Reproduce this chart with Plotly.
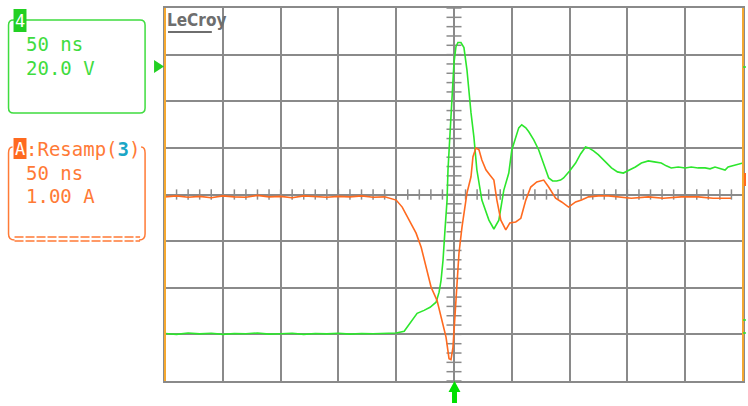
import plotly.graph_objects as go

# ---------------- data ----------------
# Channel 4 (green) : time in ns, voltage in V (20 V/div, 50 ns/div)
green_t = [-250, -240, -230, -220, -210, -200, -190, -180, -170, -160, -150, -140, -130, -120,
           -110, -100, -90, -80, -70, -60, -50,
           -43.1, -37.1, -31.9, -25.9, -20.7, -15.5, -12.9, -11.2, -9.5, -7.8, -6.0, -5.2, -3.4,
           -1.7, 0.0, 1.7, 3.4, 6.0, 8.6, 11.2, 12.9, 14.7, 17.2, 19.8, 24.1, 30.2, 34.5, 38.8,
           43.1, 47.4, 50.0, 53.4, 56.0, 58.6, 62.1, 64.7, 69.0, 73.3, 77.6, 81.9, 85.3, 88.8,
           92.2, 94.8, 100.0, 105.2, 109.5, 113.8, 116.4, 120.7, 125.0, 130.2, 136.2, 141.4,
           146.5, 151.7, 156.9, 162.1, 168.1, 173.3, 179.3, 183.6, 187.9, 194.0, 200.0, 205.2,
           211.2, 217.2, 221.5, 225.8, 230.2, 234.5, 237.1, 241.4, 245.7, 250.0]
green_v = [0.4, 0.0, 0.6, 0.2, 0.5, 0.0, 0.4, 0.3, 0.6, 0.1, 0.3, 0.5, 0.0, 0.4,
           0.2, 0.5, 0.1, 0.4, 0.3, 0.5, 0.6,
           1.3, 5.2, 9.0, 10.3, 11.6, 13.8, 18.1, 23.2, 31.8, 44.7, 57.6, 70.5, 87.7,
           101.9, 116.6, 123.4, 125.2, 125.2, 123.0, 113.5, 102.8, 95.1, 84.7, 70.5, 57.6, 49.0, 45.2, 49.0,
           61.9, 69.2, 79.1, 84.7, 88.6, 89.9, 88.6, 86.9, 83.4, 79.1, 72.7, 67.1, 65.8, 65.8,
           66.2, 67.1, 70.1, 73.5, 77.4, 80.4, 80.0, 78.7, 77.0, 74.4, 71.4, 69.7,
           69.2, 70.5, 71.8, 73.5, 74.4, 74.0, 73.5, 72.3, 71.4, 71.8, 71.4, 71.8,
           71.4, 71.4, 71.0, 71.8, 71.0, 70.5, 71.8, 72.3, 73.1, 73.5]

# Math trace A = Resamp(3) (orange) : time in ns, current in A (1 A/div)
orange_t = [-250, -240, -230, -220, -210, -200, -190, -180, -170, -160, -150, -140, -130, -120,
            -110, -100, -90, -80, -70, -60, -50,
            -44.8, -38.8, -32.8, -28.4, -24.1, -19.8, -14.7, -10.3, -6.9, -4.3, -2.6, -0.9, 0.9,
            2.6, 4.3, 6.9, 9.5, 11.2, 14.7, 16.4, 19.0, 21.6, 24.1, 27.6, 31.0, 34.5, 37.1, 40.5,
            44.8, 48.3, 53.4, 57.8, 62.1, 66.4, 71.6, 77.6, 81.9, 87.9, 93.1, 99.1, 105.2, 110.3,
            116.4, 125.0, 133.6, 142.2, 153.4, 168.1, 181.0, 196.5, 211.2, 224.1, 239.6]
orange_a = [-0.05, -0.03, -0.06, -0.04, -0.07, -0.03, -0.05, -0.06, -0.02, -0.05, -0.04, -0.07, -0.03, -0.05,
            -0.06, -0.04, -0.05, -0.03, -0.06, -0.05, -0.12,
            -0.27, -0.55, -0.83, -1.13, -1.56, -1.99, -2.27, -2.70, -3.06, -3.52, -3.54, -3.28, -2.63,
            -1.90, -1.26, -0.70, -0.27, 0.03, 0.38, 0.81, 1.00, 0.96, 0.74, 0.53, 0.42, 0.31, -0.12, -0.55,
            -0.76, -0.61, -0.59, -0.51, -0.12, 0.16, 0.27, 0.31, 0.16, -0.08, -0.16, -0.27, -0.16, -0.12,
            -0.05, -0.03, -0.03, -0.05, -0.08, -0.05, -0.08, -0.05, -0.05, -0.08, -0.08]

# scope settings
time_div_ns = 50
green_v_div = 20
orange_a_div = 1.00
green_label = ["50 ns", "20.0 V"]
orange_label = ["50 ns", "1.00 A"]

# ---------------- colors / geometry ----------------
W, H = 748, 406
ML, MR, MT, MB = 165, 3, 8, 25
PW, PH = W - ML - MR, H - MT - MB

GREEN = "#2de62d"
GREEN_TXT = "#3fdc3f"
ORANGE = "#ff6a1f"
ORANGE_TXT = "#ff7a36"
GRID = "#8a8a8a"
EDGE = "#f5a830"
MONO = "DejaVu Sans Mono, Liberation Mono, monospace"


# helpers: convert page pixel coordinates to paper coordinates
def px(x):
    return (x - ML) / PW


def py(y):
    return (H - MB - y) / PH


def path(points, close=True):
    s = "M " + " L ".join(f"{px(x):.5f},{py(y):.5f}" for x, y in points)
    return s + (" Z" if close else "")


fig = go.Figure()
fig.add_trace(go.Scatter(x=green_t, y=green_v, mode="lines",
                         line=dict(color=GREEN, width=1.6), yaxis="y", hoverinfo="skip"))
fig.add_trace(go.Scatter(x=orange_t, y=orange_a, mode="lines",
                         line=dict(color=ORANGE, width=1.6), yaxis="y2", hoverinfo="skip"))

shapes = []
# center ruler ticks (minor divisions of 1/5 div)
for i in range(-25, 26):
    t = i * time_div_ns / 5
    shapes.append(dict(type="line", xref="x", yref="y", x0=t, x1=t,
                       y0=60 - 0.11 * green_v_div, y1=60 + 0.11 * green_v_div,
                       line=dict(color=GRID, width=1.5), layer="below"))
for j in range(-20, 21):
    v = 60 + j * green_v_div / 5
    shapes.append(dict(type="line", xref="x", yref="y", x0=-0.13 * time_div_ns, x1=0.13 * time_div_ns,
                       y0=v, y1=v, line=dict(color=GRID, width=1.5), layer="below"))

# orange side edges
shapes.append(dict(type="line", xref="paper", yref="paper", x0=0, x1=0, y0=0, y1=1,
                   line=dict(color=EDGE, width=2)))
shapes.append(dict(type="line", xref="paper", yref="paper", x0=1, x1=1, y0=0, y1=1,
                   line=dict(color=EDGE, width=2)))


def rrect(x0, y0, x1, y1, r):
    return (f"M {px(x0 + r):.5f},{py(y0):.5f} L {px(x1 - r):.5f},{py(y0):.5f} "
            f"Q {px(x1):.5f},{py(y0):.5f} {px(x1):.5f},{py(y0 + r):.5f} "
            f"L {px(x1):.5f},{py(y1 - r):.5f} Q {px(x1):.5f},{py(y1):.5f} {px(x1 - r):.5f},{py(y1):.5f} "
            f"L {px(x0 + r):.5f},{py(y1):.5f} Q {px(x0):.5f},{py(y1):.5f} {px(x0):.5f},{py(y1 - r):.5f} "
            f"L {px(x0):.5f},{py(y0 + r):.5f} Q {px(x0):.5f},{py(y0):.5f} {px(x0 + r):.5f},{py(y0):.5f} Z")


# green channel box
shapes.append(dict(type="path", xref="paper", yref="paper", path=rrect(8, 20, 145, 113, 5),
                   line=dict(color=GREEN_TXT, width=1.5)))
shapes.append(dict(type="rect", xref="paper", yref="paper", x0=px(13), x1=px(26), y0=py(9), y1=py(32),
                   fillcolor="#22d022", line=dict(width=0)))

# orange math box (open top, rounded corners)
x0, x1, y0, y1 = 8, 145, 147, 240
lb = (f"M {px(x0 + 4):.5f},{py(y0):.5f} Q {px(x0):.5f},{py(y0):.5f} {px(x0):.5f},{py(y0 + 6):.5f} "
      f"L {px(x0):.5f},{py(y1 - 6):.5f} Q {px(x0):.5f},{py(y1):.5f} {px(x0 + 6):.5f},{py(y1):.5f}")
rb = (f"M {px(x1 - 4):.5f},{py(y0):.5f} Q {px(x1):.5f},{py(y0):.5f} {px(x1):.5f},{py(y0 + 6):.5f} "
      f"L {px(x1):.5f},{py(y1 - 6):.5f} Q {px(x1):.5f},{py(y1):.5f} {px(x1 - 6):.5f},{py(y1):.5f}")
shapes.append(dict(type="path", xref="paper", yref="paper", path=lb, line=dict(color=ORANGE_TXT, width=1.5)))
shapes.append(dict(type="path", xref="paper", yref="paper", path=rb, line=dict(color=ORANGE_TXT, width=1.5)))
for yy in (237, 241):
    shapes.append(dict(type="line", xref="paper", yref="paper", x0=px(14), x1=px(140), y0=py(yy), y1=py(yy),
                       line=dict(color=ORANGE_TXT, width=1.5, dash="9px,2px")))
shapes.append(dict(type="rect", xref="paper", yref="paper", x0=px(13), x1=px(26), y0=py(138), y1=py(159),
                   fillcolor=ORANGE, line=dict(width=0)))

# green offset marker left, trigger arrow bottom
shapes.append(dict(type="path", xref="paper", yref="paper",
                   path=path([(154, 60), (164, 66.5), (154, 73)]), fillcolor="#22d022", line=dict(width=0)))
shapes.append(dict(type="path", xref="paper", yref="paper",
                   path=path([(453, 403), (453, 392), (449.5, 392), (455.5, 381), (461.5, 392), (458, 392), (458, 403)]),
                   fillcolor="#00e000", line=dict(width=0)))
# small right-edge markers
for yy, c in ((67, GREEN), (320, GREEN), (333, GREEN)):
    shapes.append(dict(type="line", xref="paper", yref="paper", x0=px(745), x1=px(748), y0=py(yy), y1=py(yy),
                       line=dict(color=c, width=1.5)))
shapes.append(dict(type="line", xref="paper", yref="paper", x0=px(747), x1=px(747), y0=py(173), y1=py(186),
                   line=dict(color=ORANGE, width=2)))
# LeCroy underline
shapes.append(dict(type="line", xref="paper", yref="paper", x0=px(168), x1=px(212), y0=py(32), y1=py(32),
                   line=dict(color="#6e6e6e", width=2)))

annotations = []


def txt(x, y, s, color, size=19, family=MONO, anchor="left"):
    annotations.append(dict(xref="paper", yref="paper", x=px(x), y=py(y), text=s, showarrow=False,
                            xanchor=anchor, yanchor="middle", font=dict(family=family, size=size, color=color)))


txt(19.5, 21, "4", "white", size=17, anchor="center")
txt(24, 44, green_label[0], GREEN_TXT)
txt(24, 68, green_label[1], GREEN_TXT)
txt(19.5, 149, "A", "white", size=17, anchor="center")
txt(24, 149, ':Resamp(<span style="color:#1aa6c6"><b>3</b></span>)', ORANGE_TXT)
txt(24, 173, orange_label[0], ORANGE_TXT)
txt(24, 196, orange_label[1], ORANGE_TXT)
txt(165, 20, "<b>LeCroy</b>", "#6e6e6e", size=17,
    family="DejaVu Sans Condensed, Liberation Sans Narrow, sans-serif")

fig.update_layout(
    width=W, height=H, autosize=False,
    margin=dict(l=ML, r=MR, t=MT, b=MB, pad=0),
    paper_bgcolor="white", plot_bgcolor="white",
    showlegend=False,
    xaxis=dict(range=[-5 * time_div_ns, 5 * time_div_ns], dtick=time_div_ns, tick0=0,
               showgrid=True, gridcolor=GRID, gridwidth=2, zeroline=False,
               showline=True, linecolor=GRID, linewidth=2, mirror=True,
               showticklabels=False, ticks="", fixedrange=True),
    yaxis=dict(range=[60 - 4 * green_v_div, 60 + 4 * green_v_div], dtick=green_v_div, tick0=0,
               showgrid=True, gridcolor=GRID, gridwidth=2, zeroline=False,
               showline=True, linecolor=GRID, linewidth=2, mirror=True,
               showticklabels=False, ticks="", fixedrange=True),
    yaxis2=dict(range=[-4 * orange_a_div, 4 * orange_a_div], overlaying="y", showgrid=False,
                zeroline=False, showticklabels=False, ticks="", showline=False, fixedrange=True),
    shapes=shapes,
    annotations=annotations,
)

# remove the default page margin so the 748x406 figure fills the window exactly
fig.write_html("out.html",
               config={"displayModeBar": False, "staticPlot": True},
               post_script="document.body.style.margin='0';document.body.style.overflow='hidden';")
